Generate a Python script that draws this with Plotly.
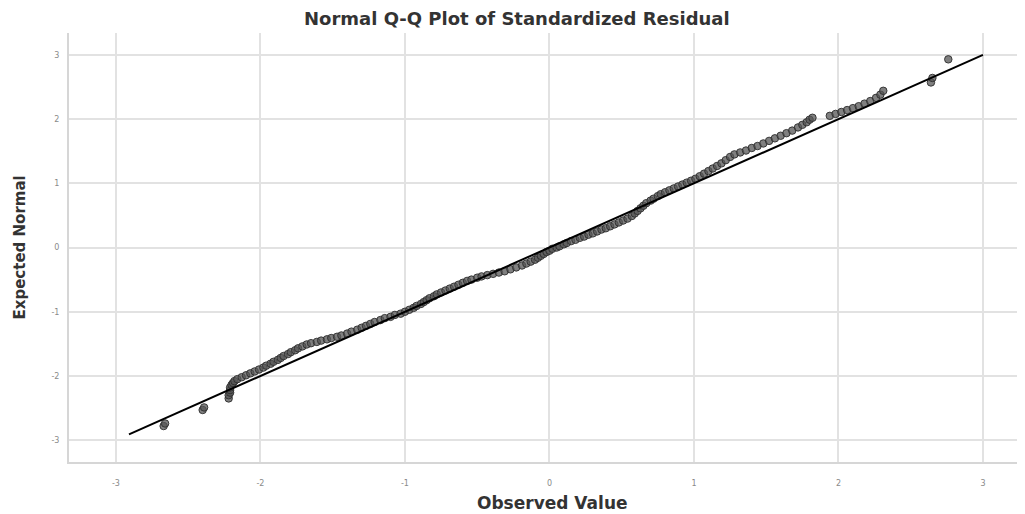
import plotly.graph_objects as go

observed = [
    -2.67, -2.66, -2.40, -2.39, -2.22, -2.22, -2.21, -2.21, -2.21, -2.20,
    -2.19, -2.18, -2.16, -2.13, -2.10, -2.07, -2.04, -2.01, -1.98, -1.96,
    -1.93, -1.91, -1.88, -1.86, -1.84, -1.81, -1.79, -1.76, -1.74, -1.71,
    -1.68, -1.65, -1.61, -1.58, -1.54, -1.51, -1.47, -1.44, -1.40, -1.37,
    -1.33, -1.30, -1.27, -1.24, -1.21, -1.17, -1.14, -1.10, -1.07, -1.03,
    -1.00, -0.97, -0.94, -0.92, -0.89, -0.87, -0.85, -0.83, -0.80, -0.78,
    -0.75, -0.72, -0.69, -0.66, -0.63, -0.60, -0.57, -0.54, -0.50, -0.47,
    -0.43, -0.39, -0.35, -0.31, -0.27, -0.23, -0.19, -0.16, -0.13, -0.10,
    -0.08, -0.06, -0.04, -0.02, 0.00, 0.02, 0.05, 0.07, 0.10, 0.12,
    0.15, 0.18, 0.21, 0.24, 0.27, 0.30, 0.33, 0.36, 0.39, 0.42,
    0.45, 0.48, 0.51, 0.54, 0.57, 0.59, 0.61, 0.63, 0.65, 0.67,
    0.70, 0.72, 0.75, 0.77, 0.80, 0.83, 0.86, 0.89, 0.92, 0.95,
    0.98, 1.01, 1.04, 1.07, 1.10, 1.13, 1.16, 1.19, 1.22, 1.25,
    1.28, 1.32, 1.36, 1.40, 1.44, 1.48, 1.52, 1.56, 1.60, 1.64,
    1.68, 1.72, 1.75, 1.78, 1.80, 1.82, 1.94, 1.98, 2.02, 2.06,
    2.10, 2.14, 2.18, 2.22, 2.26, 2.29, 2.31, 2.64, 2.65, 2.76,
]
expected = [
    -2.78, -2.74, -2.53, -2.49, -2.35, -2.30, -2.26, -2.22, -2.18, -2.14,
    -2.11, -2.08, -2.05, -2.02, -1.99, -1.96, -1.93, -1.90, -1.87, -1.84,
    -1.81, -1.78, -1.75, -1.72, -1.69, -1.66, -1.63, -1.60, -1.57, -1.54,
    -1.51, -1.49, -1.47, -1.45, -1.43, -1.41, -1.39, -1.37, -1.34, -1.31,
    -1.28, -1.25, -1.22, -1.19, -1.16, -1.13, -1.10, -1.08, -1.05, -1.03,
    -1.00, -0.97, -0.94, -0.91, -0.88, -0.85, -0.82, -0.79, -0.76, -0.73,
    -0.70, -0.67, -0.64, -0.61, -0.58, -0.55, -0.52, -0.50, -0.47, -0.45,
    -0.43, -0.41, -0.39, -0.37, -0.34, -0.31, -0.28, -0.25, -0.22, -0.19,
    -0.16, -0.13, -0.10, -0.07, -0.05, -0.02, 0.00, 0.02, 0.05, 0.07,
    0.10, 0.12, 0.15, 0.17, 0.20, 0.22, 0.25, 0.28, 0.30, 0.33,
    0.36, 0.39, 0.42, 0.45, 0.49, 0.53, 0.57, 0.61, 0.65, 0.69,
    0.73, 0.76, 0.80, 0.83, 0.86, 0.89, 0.92, 0.95, 0.98, 1.01,
    1.04, 1.07, 1.11, 1.15, 1.19, 1.23, 1.27, 1.31, 1.36, 1.41,
    1.45, 1.48, 1.51, 1.55, 1.58, 1.62, 1.66, 1.70, 1.74, 1.78,
    1.82, 1.87, 1.91, 1.95, 1.99, 2.02, 2.05, 2.08, 2.11, 2.14,
    2.17, 2.20, 2.24, 2.28, 2.33, 2.38, 2.44, 2.57, 2.64, 2.93,
]

# Reference line end points
ref_x = [-2.91, 3.0]
ref_y = [-2.91, 3.0]

tick_vals = [-3, -2, -1, 0, 1, 2, 3]
tick_text = ["-3", "-2", "-1", "0", "1", "2", "3"]

title_text = "Normal Q-Q Plot of Standardized Residual"
x_title = "Observed Value"
y_title = "Expected Normal"

fig = go.Figure()
fig.add_trace(go.Scatter(
    x=observed, y=expected, mode="markers",
    marker=dict(size=7.5, color="rgba(85,85,85,0.75)",
                line=dict(color="rgba(45,45,45,0.9)", width=1)),
    showlegend=False, hoverinfo="skip",
))
fig.add_trace(go.Scatter(
    x=ref_x, y=ref_y, mode="lines",
    line=dict(color="black", width=2),
    showlegend=False, hoverinfo="skip",
))

axis_common = dict(
    showgrid=True, gridcolor="#e2e2e2", gridwidth=2,
    zeroline=False, showline=True, linecolor="#d6d6d6", linewidth=2,
    ticks="", tickfont=dict(family="DejaVu Sans", size=8, color="#8a8a8a"),
    tickmode="array", tickvals=tick_vals, ticktext=tick_text,
    automargin=False,
)

# The page body adds an 8px offset, so the figure is a bit smaller
plot_w = 1017
fig.update_layout(
    width=plot_w, height=506,
    paper_bgcolor="white", plot_bgcolor="white",
    margin=dict(l=61, r=2, t=25, b=52),
    xaxis=dict(range=[-3.325, 3.277], ticklabelstandoff=12, **axis_common),
    yaxis=dict(range=[-3.34, 3.34], ticklabelstandoff=6, **axis_common),
    annotations=[
        dict(text="<b>" + title_text + "</b>", xref="paper", yref="paper",
             x=(517 - 69) / 954, y=1, yshift=15, xanchor="center", yanchor="middle",
             showarrow=False,
             font=dict(family="DejaVu Sans", size=18, color="#333333")),
        dict(text="<b>" + x_title + "</b>", xref="paper", yref="paper",
             x=(552 - 69) / 954, y=0, yshift=-41, xanchor="center", yanchor="middle",
             showarrow=False,
             font=dict(family="DejaVu Sans", size=17, color="#333333")),
        dict(text="<b>" + y_title + "</b>", xref="paper", yref="paper",
             x=0, xshift=-50, y=0.5, xanchor="center", yanchor="middle",
             textangle=-90, showarrow=False,
             font=dict(family="DejaVu Sans", size=15, color="#333333")),
    ],
)

fig.write_html("out.html")
